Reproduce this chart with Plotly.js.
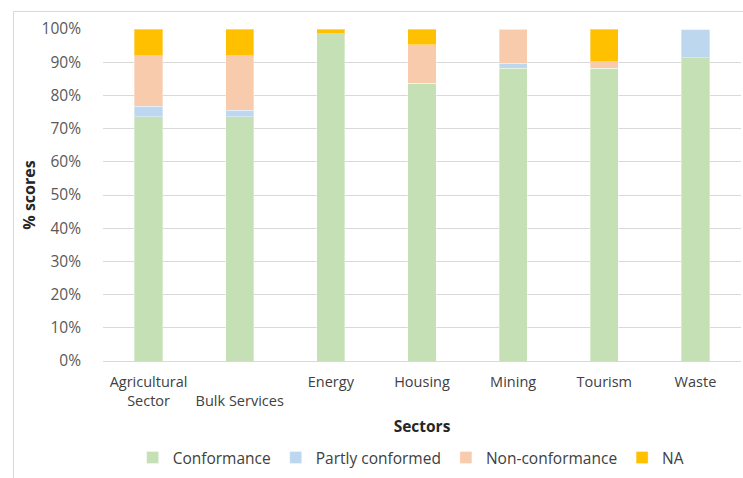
<!DOCTYPE html>
<html>
<head>
<meta charset="utf-8">
<script src="https://cdn.plot.ly/plotly-3.0.1.min.js"></script>
<style>
html,body{margin:0;padding:0;background:#fff;overflow:hidden;}
#frame{position:absolute;left:13px;top:11px;width:800px;height:600px;border:1px solid #d9d9d9;}
#chart{position:absolute;left:0;top:0;width:743px;height:495px;}
</style>
</head>
<body>
<div id="frame"></div>
<div id="chart"></div>
<script>
var sectors = ["Agricultural<br>Sector", "<br>Bulk Services", "Energy", "Housing", "Mining", "Tourism", "Waste"];
var conformance = [73.5, 73.5, 98.6, 83.6, 88.2, 88.2, 91.4];
var partlyConformed = [3.2, 2.0, 0, 0, 1.5, 0, 8.6];
var nonConformance = [15.2, 16.4, 0, 11.6, 10.3, 1.9, 0];
var notApplicable = [8.1, 8.1, 1.4, 4.8, 0, 9.9, 0];

var seriesNames = ["Conformance", "Partly conformed", "Non-conformance", "NA"];
var seriesValues = [conformance, partlyConformed, nonConformance, notApplicable];
var seriesColors = ["#c5e0b4", "#bdd7ee", "#f8cbad", "#ffc000"];

var traces = seriesNames.map(function(name, i){
  return {
    type: "bar",
    name: name,
    x: sectors,
    y: seriesValues[i].map(function(v){return v/100;}),
    marker: {color: seriesColors[i], line: {color: "rgba(255,255,255,0.35)", width: 1}},
    hoverinfo: "skip"
  };
});

var font = "Open Sans, Liberation Sans, sans-serif";
var layout = {
  width: 743, height: 495,
  barmode: "stack",
  bargap: 0.69,
  paper_bgcolor: "rgba(0,0,0,0)",
  plot_bgcolor: "rgba(0,0,0,0)",
  margin: {l: 103, r: 2, t: 29, b: 134},
  font: {family: font, color: "#595959", size: 13},
  xaxis: {
    type: "category",
    tickfont: {family: font, size: 14.5, color: "#404040"},
    showgrid: false,
    showline: true, linecolor: "#d9d9d9", linewidth: 1,
    ticks: "",
    ticklabelstandoff: 8,
    automargin: false,
    title: {text: "<b>Sectors</b>", font: {family: font, size: 15.5, color: "#262626"}, standoff: 11}
  },
  yaxis: {
    range: [0, 1],
    tickformat: ".0%",
    dtick: 0.1,
    tickfont: {family: font, size: 15.5, color: "#595959"},
    gridcolor: "#d9d9d9", gridwidth: 1,
    zeroline: false,
    ticks: "", ticklen: 0,
    ticklabelstandoff: 21,
    automargin: false,
    title: {text: "<b>% scores</b>", font: {family: font, size: 16, color: "#262626"}, standoff: 1}
  },
  legend: {
    orientation: "h",
    x: 0.483, xanchor: "center",
    y: -0.241, yanchor: "top",
    font: {family: font, size: 15.5, color: "#404040"},
    traceorder: "normal",
    itemwidth: 30
  },
  showlegend: true
};

Plotly.newPlot("chart", traces, layout, {displayModeBar: false, staticPlot: true});
</script>
</body>
</html>
